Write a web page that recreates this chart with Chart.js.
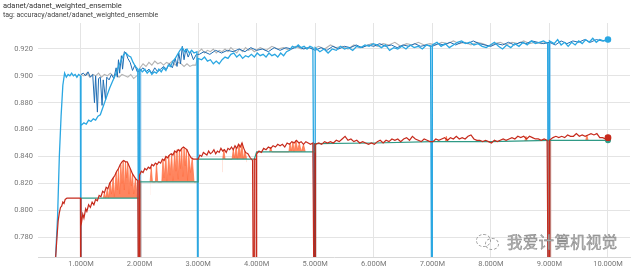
<!DOCTYPE html>
<html>
<head>
<meta charset="utf-8">
<script src="https://cdn.jsdelivr.net/npm/chart.js@4"></script>
<style>
  body { margin: 0; background: #fff; }
  #wrap { position: relative; width: 640px; height: 270px; overflow: hidden; }
  #chart { position: absolute; left: 0; top: 0; }
  #title { position: absolute; left: 3px; top: 1px; font: 7.5px Roboto, sans-serif; color: #333; }
  #tag { position: absolute; left: 3px; top: 11px; font: 7px Roboto, sans-serif; color: #444; }
  #mark { position: absolute; left: 474px; top: 230px; height: 22px; display: flex; align-items: center; }
  #mark .ico { position: relative; width: 28px; height: 20px; }
  #mark .ico span { position: absolute; border: 1.4px dashed #9a9a9a; border-radius: 50%; }
  #mark .txt { font: 15.5px "Noto Sans CJK SC", sans-serif; color: #b0b0b0; margin-left: 5px;
    -webkit-text-stroke: 0.4px #808080; letter-spacing: 0.3px; }
</style>
</head>
<body>
<div id="wrap">
  <canvas id="chart" width="640" height="270"></canvas>
  <div id="title">adanet/adanet_weighted_ensemble</div>
  <div id="tag">tag: accuracy/adanet/adanet_weighted_ensemble</div>
  <div id="mark">
    <div class="ico"><span style="left:2px;top:3px;width:13px;height:11px"></span><span style="left:11px;top:7px;width:12px;height:10px"></span></div>
    <div class="txt">我爱计算机视觉</div>
  </div>
</div>
<script>
// tick positions (steps in millions)
const xTicks = [1, 2, 3, 4, 5, 6, 7, 8, 9, 10];
const yTicks = [0.78, 0.80, 0.82, 0.84, 0.86, 0.88, 0.90, 0.92];

// light blue run
const lightBlueSteps = [0.56,0.60,0.63,0.66,0.69,0.72,0.75,0.78,0.81,0.84,0.87,0.90,0.93,0.96,0.99,1.00,1.00,
  1.05,1.09,1.13,1.17,1.21,1.25,1.29,1.33,1.37,1.41,1.45,1.49,1.53,1.57,1.61,1.65,1.69,1.73,1.77,1.81,1.85,1.89,1.93,1.97,2.00,2.00,
  2.05,2.09,2.13,2.17,2.21,2.25,2.29,2.33,2.37,2.41,2.45,2.49,2.53,2.57,2.61,2.65,2.69,2.73,2.77,2.81,2.85,2.89,2.93,2.98,3.00,3.00,
  3.06,3.11,3.16,3.21,3.26,3.31,3.36,3.41,3.46,3.51,3.56,3.61,3.66,3.71,3.76,3.81,3.86,3.91,3.96,4.01,4.06,4.11,4.16,4.21,4.26,4.31,4.36,4.41,4.46,4.51,4.56,4.61,4.66,4.71,4.76,4.81,4.86,4.91,4.96,5.00,5.00,
  5.08,5.15,5.22,5.29,5.36,5.43,5.50,5.57,5.64,5.71,5.78,5.85,5.92,5.99,6.06,6.13,6.20,6.27,6.34,6.41,6.48,6.55,6.62,6.69,6.76,6.83,6.90,6.97,7.00,7.00,
  7.08,7.15,7.22,7.29,7.36,7.43,7.50,7.57,7.64,7.71,7.78,7.85,7.92,7.99,8.06,8.13,8.20,8.27,8.34,8.41,8.48,8.55,8.62,8.69,8.76,8.83,8.90,8.97,9.00,9.00,
  9.08,9.14,9.20,9.26,9.32,9.38,9.44,9.50,9.56,9.62,9.68,9.74,9.80,9.86,9.92,10.00];
const lightBlueAcc = [0.760,0.795,0.840,0.870,0.893,0.902,0.899,0.901,0.900,0.902,0.900,0.901,0.899,0.901,0.900,0.600,0.863,
  0.865,0.864,0.867,0.866,0.868,0.867,0.870,0.871,0.876,0.881,0.886,0.891,0.895,0.899,0.903,0.908,0.912,0.916,0.917,0.915,0.914,0.910,0.907,0.905,0.600,0.905,
  0.903,0.905,0.902,0.904,0.901,0.903,0.902,0.905,0.903,0.906,0.904,0.908,0.907,0.911,0.913,0.916,0.919,0.921,0.918,0.920,0.917,0.919,0.917,0.918,0.600,0.913,
  0.912,0.914,0.911,0.912,0.909,0.911,0.909,0.912,0.914,0.913,0.916,0.917,0.914,0.916,0.913,0.915,0.914,0.916,0.914,0.917,0.915,0.916,0.914,0.917,0.915,0.916,0.914,0.917,0.915,0.918,0.919,0.922,0.921,0.923,0.921,0.922,0.920,0.922,0.921,0.600,0.921,
  0.918,0.920,0.917,0.920,0.919,0.922,0.920,0.921,0.919,0.922,0.921,0.923,0.922,0.924,0.923,0.921,0.923,0.919,0.921,0.920,0.922,0.920,0.923,0.921,0.922,0.920,0.923,0.922,0.600,0.923,
  0.925,0.922,0.924,0.921,0.923,0.925,0.926,0.924,0.925,0.923,0.924,0.922,0.921,0.923,0.925,0.922,0.920,0.923,0.921,0.924,0.922,0.925,0.923,0.926,0.924,0.925,0.926,0.924,0.600,0.926,
  0.924,0.927,0.923,0.925,0.922,0.925,0.923,0.926,0.924,0.927,0.925,0.928,0.925,0.927,0.926,0.927];

// dark blue run
const darkBlueSteps = [1.00,1.04,1.08,1.12,1.16,1.20,1.23,1.25,1.28,1.30,1.33,1.36,1.38,1.42,1.44,1.48,1.52,1.56,1.60,1.62,1.64,1.66,1.69,1.71,1.74,1.77,1.80,1.84,1.88,1.92,1.96,
  2.01,2.06,2.11,2.16,2.21,2.26,2.31,2.36,2.41,2.46,2.51,2.56,2.61,2.64,2.67,2.70,2.73,2.76,2.79,2.83,2.87,2.92,2.97,
  3.02,3.1,3.2,3.3,3.4,3.5,3.6,3.7,3.8,3.9,4.0,4.1,4.2,4.3,4.4,4.5,4.6,4.7,4.8,4.9,5.0,5.1,5.2,5.3,5.4,5.5,5.6,5.7,5.8,5.9,
  6.0,6.1,6.2,6.3,6.4,6.5,6.6,6.7,6.8,6.9,7.0,7.1,7.2,7.3,7.4,7.5,7.6,7.7,7.8,7.9,8.0,8.1,8.2,8.3,8.4,8.5,8.6,8.7,8.8,8.9,
  9.0,9.1,9.2,9.3,9.4,9.5,9.6,9.7,9.8,9.9,10.0];
const darkBlueAcc = [0.901,0.902,0.900,0.903,0.899,0.901,0.880,0.900,0.873,0.898,0.899,0.878,0.897,0.882,0.899,0.897,0.901,0.898,0.906,0.899,0.912,0.902,0.915,0.905,0.918,0.917,0.913,0.910,0.904,0.908,0.903,
  0.904,0.906,0.903,0.905,0.902,0.906,0.903,0.905,0.907,0.905,0.909,0.906,0.913,0.907,0.917,0.909,0.922,0.912,0.920,0.914,0.918,0.912,0.916,
  0.916,0.918,0.916,0.919,0.917,0.919,0.918,0.920,0.918,0.921,0.919,0.920,0.918,0.921,0.919,0.921,0.920,0.922,0.920,0.921,0.919,0.921,0.919,0.922,0.920,0.922,0.921,0.923,0.921,0.923,
  0.922,0.924,0.922,0.923,0.921,0.923,0.922,0.924,0.922,0.923,0.922,0.924,0.923,0.925,0.923,0.925,0.924,0.926,0.924,0.923,0.922,0.924,0.923,0.925,0.923,0.925,0.924,0.926,0.925,0.924,
  0.925,0.923,0.926,0.924,0.926,0.925,0.927,0.925,0.927,0.926,0.927];

// grey run
const greySteps = [1.00,1.05,1.10,1.15,1.20,1.25,1.30,1.35,1.40,1.45,1.50,1.55,1.60,1.65,1.70,1.75,1.80,1.85,1.90,1.95,1.99,
  2.01,2.06,2.11,2.16,2.21,2.26,2.31,2.36,2.41,2.46,2.51,2.56,2.61,2.66,2.71,2.76,2.81,2.86,2.91,2.96,
  3.01,3.06,3.11,3.16,3.21,3.26,3.31,3.36,3.41,3.46,3.51,3.56,3.61,3.66,3.71,3.76,3.81,3.86,3.91,3.96,
  4.06,4.16,4.26,4.36,4.46,4.56,4.66,4.76,4.86,4.96,5.06,5.16,5.26,5.36,5.46,5.56,5.66,5.76,5.86,5.96,
  6.06,6.16,6.26,6.36,6.46,6.56,6.66,6.76,6.86,6.96,7.06,7.16,7.26,7.36,7.46,7.56,7.66,7.76,7.86,7.96,
  8.06,8.16,8.26,8.36,8.46,8.56,8.66,8.76,8.86,8.96];
const greyAcc = [0.901,0.900,0.902,0.899,0.901,0.900,0.902,0.899,0.901,0.900,0.902,0.900,0.901,0.899,0.901,0.900,0.899,0.901,0.898,0.900,0.901,
  0.906,0.909,0.907,0.910,0.908,0.911,0.909,0.910,0.908,0.910,0.909,0.911,0.908,0.910,0.909,0.907,0.909,0.907,0.908,0.908,
  0.918,0.920,0.917,0.919,0.918,0.920,0.917,0.919,0.918,0.920,0.918,0.921,0.919,0.917,0.920,0.918,0.921,0.919,0.920,0.918,
  0.921,0.919,0.922,0.920,0.921,0.919,0.922,0.920,0.921,0.920,0.922,0.920,0.923,0.921,0.922,0.920,0.923,0.921,0.922,0.924,
  0.922,0.924,0.923,0.925,0.922,0.924,0.923,0.925,0.923,0.924,0.923,0.925,0.924,0.926,0.924,0.925,0.923,0.925,0.924,0.922,
  0.924,0.925,0.923,0.925,0.924,0.926,0.924,0.925,0.924,0.925];

// dark red run
const redSteps = [0.56,0.59,0.61,0.63,0.65,0.67,0.69,0.71,0.73,0.76,0.80,0.85,0.90,0.95,0.99,1.00,1.00,
  1.03,1.05,1.08,1.10,1.13,1.16,1.19,1.22,1.25,1.28,1.31,1.34,1.37,1.40,1.43,1.46,1.49,1.52,1.55,1.58,1.61,1.64,1.67,1.70,1.73,1.76,1.79,1.82,1.85,1.88,1.91,1.94,1.97,2.00,2.00,
  2.03,2.06,2.09,2.12,2.15,2.18,2.21,2.24,2.27,2.30,2.33,2.36,2.39,2.42,2.45,2.48,2.51,2.54,2.57,2.60,2.63,2.66,2.69,2.72,2.75,2.78,2.81,2.84,2.88,2.92,2.96,3.00,
  3.03,3.06,3.09,3.12,3.15,3.18,3.21,3.24,3.27,3.30,3.33,3.36,3.39,3.42,3.45,3.48,3.51,3.54,3.57,3.60,3.63,3.66,3.69,3.72,3.75,3.78,3.81,3.85,3.89,3.93,3.96,3.96,3.99,4.00,4.00,
  4.04,4.08,4.12,4.16,4.20,4.24,4.28,4.32,4.36,4.40,4.44,4.48,4.52,4.56,4.60,4.64,4.68,4.72,4.76,4.80,4.84,4.88,4.92,4.96,5.00,5.00,
  5.06,5.11,5.16,5.21,5.26,5.31,5.36,5.41,5.46,5.51,5.56,5.61,5.66,5.71,5.76,5.81,5.86,5.91,5.96,6.01,6.06,6.11,6.16,6.21,6.26,6.31,6.36,6.41,6.46,6.51,6.56,6.61,6.66,6.71,6.76,6.81,6.86,6.91,6.96,
  7.01,7.06,7.11,7.16,7.21,7.26,7.31,7.36,7.41,7.46,7.51,7.56,7.61,7.66,7.71,7.76,7.81,7.86,7.91,7.96,8.01,8.06,8.11,8.16,8.21,8.26,8.31,8.36,8.41,8.46,8.51,8.56,8.61,8.66,8.71,8.76,8.81,8.86,8.91,8.96,9.00,9.00,
  9.06,9.11,9.16,9.21,9.26,9.31,9.36,9.41,9.46,9.51,9.56,9.61,9.66,9.71,9.76,9.81,9.86,9.91,9.96,10.00];
const redAcc = [0.760,0.780,0.792,0.798,0.802,0.803,0.806,0.805,0.808,0.809,0.809,0.809,0.809,0.809,0.809,0.600,0.788,
  0.797,0.794,0.801,0.799,0.804,0.802,0.806,0.804,0.808,0.807,0.811,0.810,0.814,0.813,0.817,0.816,0.820,0.822,0.824,0.826,0.829,0.831,0.834,0.836,0.837,0.836,0.836,0.833,0.830,0.827,0.825,0.823,0.822,0.600,0.826,
  0.829,0.828,0.831,0.830,0.832,0.831,0.834,0.833,0.835,0.834,0.836,0.835,0.838,0.837,0.840,0.839,0.841,0.842,0.841,0.844,0.843,0.845,0.844,0.846,0.847,0.846,0.845,0.842,0.839,0.838,0.838,0.838,
  0.841,0.840,0.843,0.842,0.841,0.844,0.842,0.843,0.845,0.842,0.844,0.843,0.846,0.844,0.845,0.843,0.846,0.845,0.847,0.845,0.848,0.846,0.849,0.847,0.850,0.846,0.843,0.842,0.839,0.837,0.600,0.838,0.838,0.600,0.842,
  0.844,0.843,0.846,0.845,0.847,0.846,0.848,0.847,0.849,0.848,0.849,0.847,0.850,0.849,0.851,0.850,0.852,0.850,0.851,0.849,0.851,0.850,0.849,0.850,0.600,0.849,
  0.850,0.849,0.851,0.850,0.851,0.850,0.852,0.851,0.853,0.855,0.852,0.853,0.851,0.852,0.850,0.851,0.850,0.849,0.850,0.849,0.851,0.852,0.850,0.852,0.851,0.853,0.852,0.853,0.851,0.853,0.854,0.852,0.855,0.853,0.852,0.851,0.853,0.852,0.851,
  0.851,0.853,0.852,0.853,0.854,0.852,0.854,0.853,0.855,0.853,0.854,0.853,0.855,0.856,0.853,0.852,0.852,0.851,0.852,0.851,0.850,0.852,0.851,0.852,0.853,0.852,0.853,0.854,0.853,0.855,0.854,0.855,0.853,0.855,0.854,0.853,0.853,0.852,0.853,0.852,0.600,0.852,
  0.854,0.855,0.854,0.855,0.854,0.856,0.855,0.855,0.857,0.855,0.856,0.855,0.856,0.857,0.856,0.857,0.854,0.854,0.853,0.854];

// teal "best so far" run
const tealSteps = [1.00,2.00,2.00,3.00,3.00,3.96,4.00,5.00,5.00,6.00,7.00,8.00,9.00,10.00];
const tealAcc   = [0.809,0.809,0.821,0.821,0.838,0.838,0.8434,0.8434,0.8496,0.850,0.851,0.851,0.852,0.852];

// orange run (spiky, drawn with fill down to teal)
const orangeSteps = [1.38,1.40,1.42,1.45,1.47,1.50,1.52,1.55,1.57,1.60,1.62,1.64,1.66,1.68,1.70,1.72,1.74,1.76,1.78,1.80,1.82,1.84,1.86,1.88,1.90,1.93,1.96,1.98,
  2.18,2.20,2.22,2.27,2.29,2.31,2.38,2.40,2.42,2.45,2.47,2.50,2.52,2.55,2.57,2.60,2.62,2.64,2.66,2.68,2.70,2.72,2.74,2.76,2.78,2.80,2.82,2.84,2.87,2.90,2.93,2.96,2.98,
  3.42,3.44,3.46,3.58,3.60,3.62,3.65,3.67,3.70,3.72,3.75,3.77,3.80,3.83,3.86,
  4.22,4.24,4.26,4.55,4.57,4.59,4.62,4.64,4.67,4.70,4.73,4.76,4.80,4.83,4.86,
  7.22,7.24,7.26,7.28,8.58,8.60,8.62,8.64,9.62,9.64,9.66];
const orangeAcc = [0.809,0.813,0.809,0.816,0.809,0.821,0.812,0.824,0.810,0.828,0.815,0.831,0.812,0.834,0.820,0.837,0.815,0.836,0.824,0.835,0.812,0.831,0.818,0.827,0.812,0.824,0.809,null,
  0.821,0.832,0.821,0.821,0.835,0.821,0.821,0.838,0.824,0.840,0.821,0.841,0.826,0.842,0.822,0.844,0.829,0.845,0.823,0.845,0.831,0.846,0.825,0.847,0.833,0.845,0.822,0.842,0.828,0.839,0.821,0.821,null,
  0.838,0.845,0.838,0.838,0.845,0.839,0.847,0.838,0.849,0.840,0.850,0.838,0.844,0.838,null,
  0.8434,0.847,0.8434,0.8434,0.850,0.844,0.851,0.8434,0.852,0.845,0.850,0.8434,0.849,0.8434,null,
  0.851,0.855,0.851,null,0.8515,0.855,0.8515,null,0.852,0.856,0.852];

// wide shaded drops where several runs restart
const redShadeSteps = [2.00,2.00,2.01,9.00,9.00];
const redShadeAcc   = [0.822,0.600,null,0.852,0.600];
const maroonSteps   = [5.00,5.00];
const maroonAcc     = [0.850,0.600];
const blueShadeSteps = [2.00,2.00,2.01,8.99,8.99];
const blueShadeAcc   = [0.905,0.600,null,0.925,0.600];

const pts = (xs, ys) => xs.map((x, i) => ({ x: x, y: ys[i] }));
const lastDot = r => ctx => ctx.dataIndex === ctx.dataset.data.length - 1 ? r : 0;

function line(label, xs, ys, color, width, extra) {
  return Object.assign({
    label: label,
    data: pts(xs, ys),
    borderColor: color,
    backgroundColor: color,
    borderWidth: width,
    pointRadius: 0,
    tension: 0,
    fill: false,
    spanGaps: false
  }, extra || {});
}

// first dataset is drawn on top
const datasets = [
  line("red", redSteps, redAcc, "#c62a1c", 1.2, { pointRadius: lastDot(2.8) }),
  line("teal", tealSteps, tealAcc, "#2f9a86", 1.2, { pointRadius: lastDot(2.4) }),
  line("orange", orangeSteps, orangeAcc, "rgba(255,112,67,0.9)", 0.8,
       { fill: 1, backgroundColor: "rgba(255,112,67,0.85)" }),
  line("maroon", maroonSteps, maroonAcc, "#6e2a2a", 2),
  line("redShade", redShadeSteps, redShadeAcc, "rgba(196,110,98,0.85)", 3.5),
  line("lightBlue", lightBlueSteps, lightBlueAcc, "#2aa7e2", 1.3, { pointRadius: lastDot(2.6) }),
  line("darkBlue", darkBlueSteps, darkBlueAcc, "#1f6db3", 1),
  line("grey", greySteps, greyAcc, "#b4b4b4", 1.1),
  line("blueShade", blueShadeSteps, blueShadeAcc, "rgba(110,185,230,0.85)", 3.5)
];

new Chart(document.getElementById("chart"), {
  type: "line",
  data: { datasets: datasets },
  options: {
    responsive: false,
    animation: false,
    devicePixelRatio: 1,
    layout: { padding: { top: 23, right: 10, left: 0, bottom: 0 } },
    plugins: { legend: { display: false }, tooltip: { enabled: false } },
    scales: {
      x: {
        type: "linear",
        min: 0.2657,
        max: 10.376,
        afterBuildTicks: s => { s.ticks = xTicks.map(v => ({ value: v })); },
        afterFit: s => { s.height = 13; },
        grid: { color: "#e4e4e4", drawTicks: false },
        border: { color: "#d8d8d8" },
        ticks: {
          padding: 3,
          maxRotation: 0,
          color: "#777",
          font: { family: "Roboto", size: 7.5 },
          callback: v => v.toFixed(3) + "M"
        }
      },
      y: {
        min: 0.76511,
        max: 0.93936,
        afterBuildTicks: s => { s.ticks = yTicks.map(v => ({ value: v })); },
        afterFit: s => { s.width = 38; },
        grid: { color: "#e4e4e4", drawTicks: false },
        border: { display: false },
        ticks: {
          padding: 5,
          color: "#777",
          font: { family: "Roboto", size: 7.5 },
          callback: v => v.toFixed(3)
        }
      }
    }
  }
});
</script>
</body>
</html>
